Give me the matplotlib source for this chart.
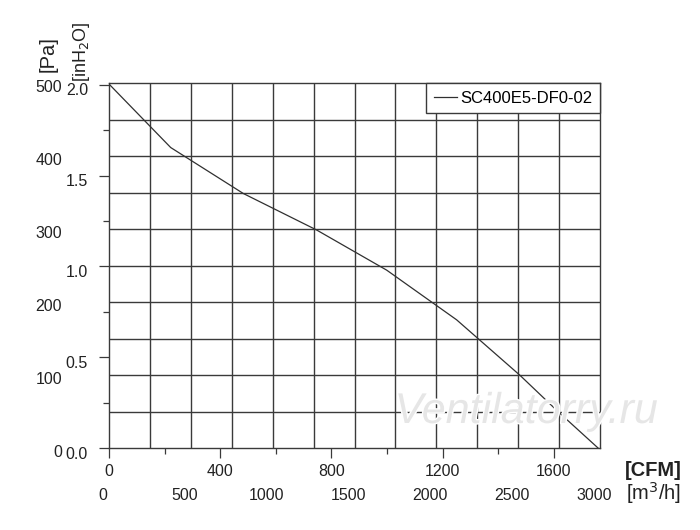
import numpy as np
import matplotlib
matplotlib.use("Agg")
import matplotlib.pyplot as plt
from matplotlib.ticker import FixedLocator, NullFormatter
import matplotlib.transforms as mtransforms
import matplotlib.patheffects as pe

plt.rcParams['font.family'] = ['Liberation Sans', 'DejaVu Sans']

# curve (x in m3/h, y in Pa)
flow_m3h = [0, 377, 821, 1269, 1697, 2124, 2511, 2745, 2990]
press_pa = [499, 412, 349, 299, 244, 176, 100, 50, 0]
series_name = "SC400E5-DF0-02"

pa_labels = [0, 100, 200, 300, 400, 500]
inh2o_labels = [0.0, 0.5, 1.0, 1.5, 2.0]
cfm_labels = [0, 400, 800, 1200, 1600]
m3h_labels = [0, 500, 1000, 1500, 2000, 2500, 3000]

PA_PER_INH2O = 249.09
M3H_PER_CFM = 1.69901
GRID = '#3a3a3a'
TXT = '#222222'

fig = plt.figure(figsize=(7.0, 5.3), dpi=100)
ax = fig.add_axes([109 / 700, (530 - 448.3) / 530, 491 / 700, 365 / 530])

ax.plot(flow_m3h, press_pa, color='#303030', lw=0.9, label=series_name, zorder=3)

ax.set_xlim(0, 3000)
ax.set_ylim(0, 500)

# grid: 12 x 10 cells
for gx in np.arange(250, 3000, 250):
    ax.axvline(gx, color=GRID, lw=1.0, zorder=1)
for gy in np.arange(50, 500, 50):
    ax.axhline(gy, color=GRID, lw=1.0, zorder=1)
for s in ax.spines.values():
    s.set_color(GRID)
    s.set_linewidth(1.0)

# left ticks follow inH2O, bottom ticks follow CFM
ax.yaxis.set_major_locator(FixedLocator([v * PA_PER_INH2O for v in inh2o_labels]))
ax.yaxis.set_minor_locator(FixedLocator([v * PA_PER_INH2O for v in np.arange(0.25, 2.0, 0.5)]))
ax.xaxis.set_major_locator(FixedLocator([c * M3H_PER_CFM for c in cfm_labels]))
ax.xaxis.set_minor_locator(FixedLocator([c * M3H_PER_CFM for c in range(200, 1800, 400)]))
ax.yaxis.set_major_formatter(NullFormatter())
ax.xaxis.set_major_formatter(NullFormatter())
ax.tick_params(which='major', length=7, width=0.9, color=GRID, direction='out')
ax.tick_params(which='minor', length=4, width=0.9, color=GRID, direction='out')

fs = 11.5
down = mtransforms.ScaledTranslation(0, -4 / 100, fig.dpi_scale_trans)

# Pa labels
tr = mtransforms.blended_transform_factory(fig.transFigure, ax.transData)
for v in pa_labels:
    ax.text(62 / 700, v, str(v), transform=tr + down, ha='right', va='center',
            fontsize=fs, color=TXT)

# inH2O labels
down2 = mtransforms.ScaledTranslation(0, -6 / 100, fig.dpi_scale_trans)
for v in inh2o_labels:
    ax.text(88 / 700, v * PA_PER_INH2O, "%.1f" % v, transform=tr + down2,
            ha='right', va='center', fontsize=fs, color=TXT)

# CFM labels
trx = mtransforms.blended_transform_factory(ax.transData, fig.transFigure)
for c in cfm_labels:
    ax.text(c * M3H_PER_CFM, 1 - 471 / 530, str(c), transform=trx, ha='center',
            va='center', fontsize=fs, color=TXT)

# m3/h labels
left = mtransforms.ScaledTranslation(-6 / 100, 0, fig.dpi_scale_trans)
for m in m3h_labels:
    ax.text(m, 1 - 495 / 530, str(m), transform=trx + left, ha='center',
            va='center', fontsize=fs, color=TXT)

# axis titles
fig.text(48 / 700, 1 - 54 / 530, "[Pa]", rotation=90, ha='center', va='center',
         fontsize=14.5, color=TXT)
fig.text(81 / 700, 1 - 52 / 530, "[inH$_2$O]", rotation=90, ha='center', va='center',
         fontsize=13, color=TXT)
fig.text(653 / 700, 1 - 470 / 530, "[CFM]", ha='center', va='center',
         fontsize=14.5, fontweight='bold', color=TXT)
fig.text(654 / 700, 1 - 493 / 530, "[m$^3$/h]", ha='center', va='center',
         fontsize=14.5, color=TXT)

# watermark
fig.text(526 / 700, 1 - 412 / 530, "Ventilatorry.ru", ha='center', va='center',
         fontsize=31, style='italic', color='#e6e6e6', zorder=5,
         path_effects=[pe.withStroke(linewidth=2, foreground='white')])

leg = ax.legend(loc='upper right', bbox_to_anchor=(1.0, 1.0), borderaxespad=0,
                fancybox=False, framealpha=1, edgecolor=GRID, fontsize=12,
                handlelength=1.4, handletextpad=0.2, borderpad=0.45)
leg.get_frame().set_linewidth(1.0)
leg.set_zorder(4)

fig.savefig("out.png", dpi=100)
